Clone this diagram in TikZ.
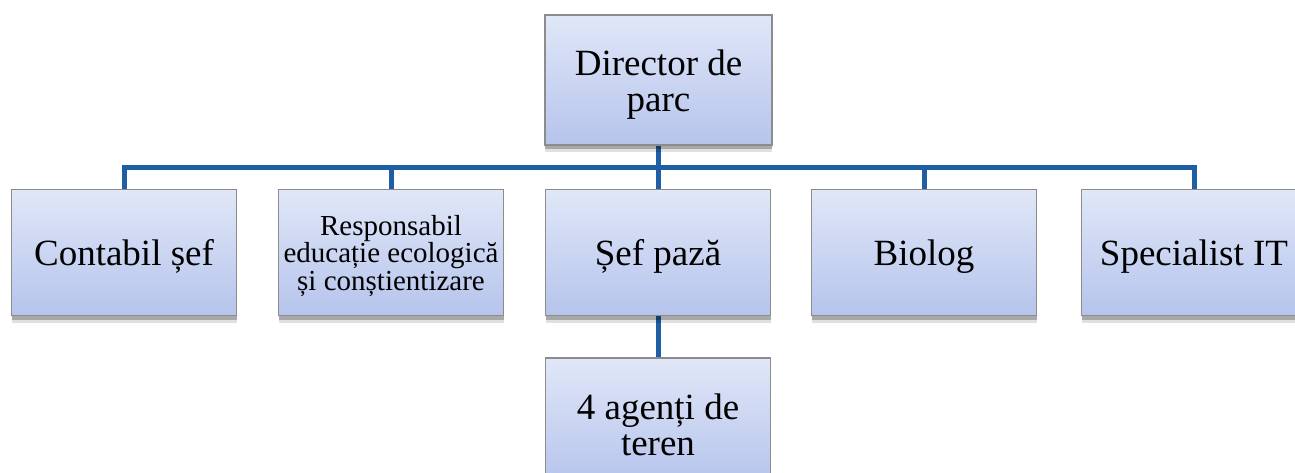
\documentclass[tikz,border=0pt]{standalone}
\usepackage{fontspec}
\setmainfont{Liberation Serif}
\usetikzlibrary{shadows}
\definecolor{lineblue}{RGB}{30,94,164}
\definecolor{boxtop}{RGB}{224,231,248}
\definecolor{boxbot}{RGB}{182,196,236}
\definecolor{boxedge}{RGB}{140,140,140}
\newcommand\tstrut{\rule{0pt}{0.92em}}
\tikzset{
  orgbox/.style={draw=boxedge, line width=1.4pt, top color=boxtop, bottom color=boxbot,
    minimum width=225pt, minimum height=126pt, inner sep=2pt, align=center,
    font=\fontsize{37}{36}\selectfont,
    drop shadow={shadow xshift=0pt, shadow yshift=-7pt, opacity=0.12, fill=black},
    drop shadow={shadow xshift=0pt, shadow yshift=-4pt, opacity=0.25, fill=black}},
  conn/.style={draw=lineblue, line width=5pt, line join=miter}
}
\begin{document}
\begin{tikzpicture}[x=1pt,y=-1pt]
\useasboundingbox (0,0) rectangle (1295,473);
\coordinate (bus) at (658,168);
\draw[conn] (124,190) |- (bus) -| (1194,190);
\draw[conn] (658,145) -- (658,190);
\draw[conn] (391,168) -- (391,190);
\draw[conn] (924,168) -- (924,190);
\draw[conn] (658,315) -- (658,358);
\node[orgbox, minimum height=130pt, minimum width=227pt] (dir) at (658.5,80) {\tstrut Director de\\parc};
\node[orgbox] (c1) at (124,252.5) {\tstrut Contabil șef};
\node[orgbox, font=\fontsize{29}{27.5}\selectfont] (c2) at (391,252.5) {\tstrut Responsabil\\educație ecologică\\și conștientizare};
\node[orgbox] (c3) at (658,252.5) {\tstrut Șef pază};
\node[orgbox] (c4) at (924,252.5) {\tstrut Biolog};
\node[orgbox] (c5) at (1194,252.5) {\tstrut Specialist IT};
\node[orgbox] (ag) at (658,421) {\tstrut 4 agenți de\\teren};
\end{tikzpicture}
\end{document}
